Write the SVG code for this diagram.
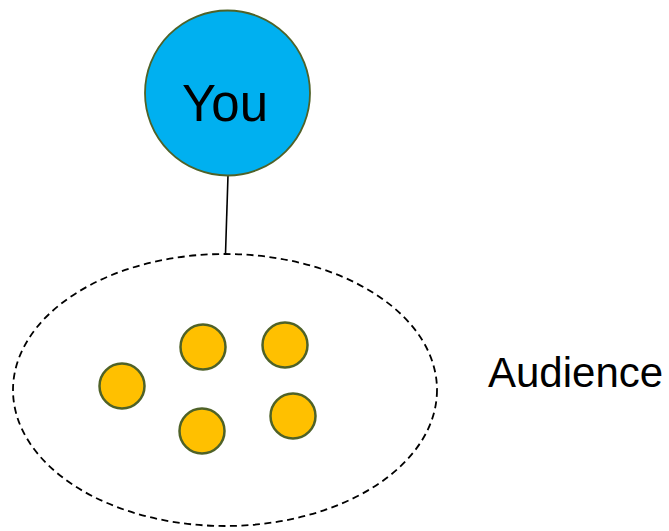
<svg xmlns="http://www.w3.org/2000/svg" width="669" height="531" viewBox="0 0 669 531">
  <style>
    .label { font-family: "Liberation Sans", Arial, sans-serif; fill: #000; }
    .member { fill: #FFC000; stroke: #4F6228; stroke-width: 2.5; }
    .you { fill: #00B0F0; stroke: #4F6228; stroke-width: 1.8; }
    .link { stroke: #000; stroke-width: 1.6; fill: none; }
    .group { fill: none; stroke: #000; stroke-width: 1.8; stroke-dasharray: 7 4.5; }
  </style>
  <rect width="669" height="531" fill="#fff"/>

  <!-- connector between the speaker and the audience group -->
  <g id="connectors">
    <line class="link" x1="228" y1="175" x2="225.5" y2="254"/>
  </g>

  <g id="you">
    <circle class="you" cx="227.5" cy="93" r="82.5"/>
    <text class="label" x="225" y="121" font-size="51" text-anchor="middle">You</text>
  </g>

  <g id="audience">
    <ellipse class="group" cx="225" cy="390" rx="212" ry="136"/>
    <text class="label" x="488" y="387" font-size="42">Audience</text>
  </g>

  <g id="member-1"><circle class="member" cx="122" cy="386" r="22.5"/></g>
  <g id="member-2"><circle class="member" cx="203" cy="347" r="22.5"/></g>
  <g id="member-3"><circle class="member" cx="285" cy="345" r="22.5"/></g>
  <g id="member-4"><circle class="member" cx="202" cy="431" r="22.5"/></g>
  <g id="member-5"><circle class="member" cx="293" cy="416" r="22.5"/></g>
</svg>
